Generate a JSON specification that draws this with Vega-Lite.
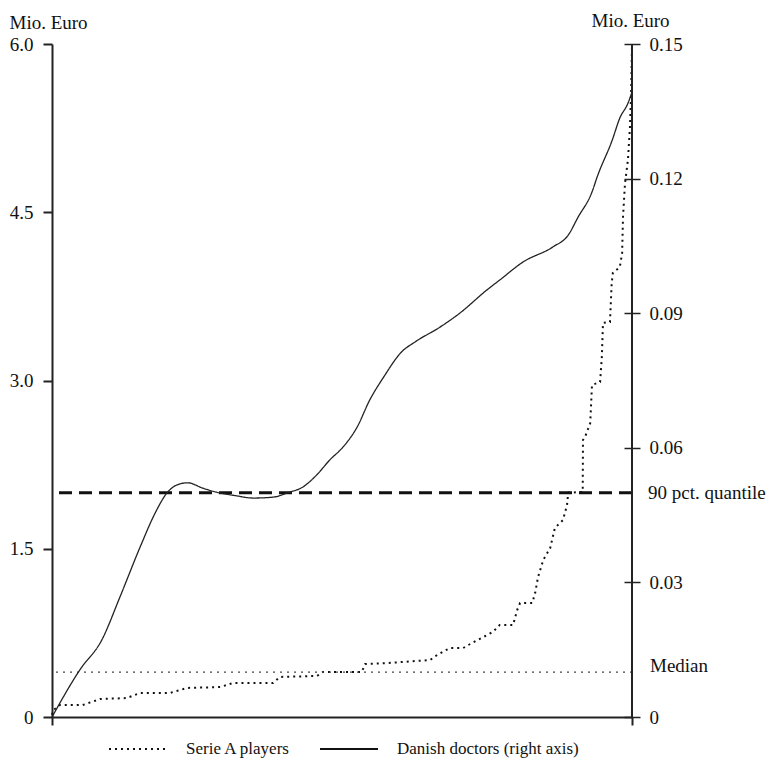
{
  "$schema": "https://vega.github.io/schema/vega-lite/v6.json",
  "width": 580,
  "height": 673,
  "autosize": {"type": "none"},
  "padding": {"left": 52, "top": 44, "right": 140, "bottom": 43},
  "background": "white",
  "config": {
    "view": {"stroke": null},
    "font": "Liberation Serif",
    "axis": {
      "grid": false,
      "labelFont": "Liberation Serif",
      "titleFont": "Liberation Serif",
      "labelColor": "#111",
      "titleColor": "#111",
      "domainColor": "#222",
      "tickColor": "#222",
      "labelFontSize": 19,
      "titleFontSize": 19,
      "titleFontWeight": "normal"
    }
  },
  "datasets": {
    "serie": [
      {"p": 0, "v": 0.02, "series": "Serie A players"},
      {"p": 0.2, "v": 0.06, "series": "Serie A players"},
      {"p": 1.4, "v": 0.107, "series": "Serie A players"},
      {"p": 5.3, "v": 0.107, "series": "Serie A players"},
      {"p": 8.3, "v": 0.16, "series": "Serie A players"},
      {"p": 12.9, "v": 0.169, "series": "Serie A players"},
      {"p": 15.2, "v": 0.214, "series": "Serie A players"},
      {"p": 20.3, "v": 0.214, "series": "Serie A players"},
      {"p": 23.3, "v": 0.259, "series": "Serie A players"},
      {"p": 29.0, "v": 0.267, "series": "Serie A players"},
      {"p": 31.2, "v": 0.303, "series": "Serie A players"},
      {"p": 38.1, "v": 0.303, "series": "Serie A players"},
      {"p": 39.3, "v": 0.357, "series": "Serie A players"},
      {"p": 45.7, "v": 0.366, "series": "Serie A players"},
      {"p": 46.7, "v": 0.401, "series": "Serie A players"},
      {"p": 53.4, "v": 0.401, "series": "Serie A players"},
      {"p": 54.0, "v": 0.472, "series": "Serie A players"},
      {"p": 57.8, "v": 0.481, "series": "Serie A players"},
      {"p": 65.2, "v": 0.508, "series": "Serie A players"},
      {"p": 66.4, "v": 0.553, "series": "Serie A players"},
      {"p": 68.6, "v": 0.615, "series": "Serie A players"},
      {"p": 70.9, "v": 0.615, "series": "Serie A players"},
      {"p": 72.1, "v": 0.651, "series": "Serie A players"},
      {"p": 76.0, "v": 0.758, "series": "Serie A players"},
      {"p": 77.2, "v": 0.82, "series": "Serie A players"},
      {"p": 79.5, "v": 0.82, "series": "Serie A players"},
      {"p": 80.2, "v": 0.954, "series": "Serie A players"},
      {"p": 80.7, "v": 1.016, "series": "Serie A players"},
      {"p": 82.8, "v": 1.016, "series": "Serie A players"},
      {"p": 83.3, "v": 1.105, "series": "Serie A players"},
      {"p": 83.8, "v": 1.248, "series": "Serie A players"},
      {"p": 84.7, "v": 1.4, "series": "Serie A players"},
      {"p": 85.9, "v": 1.507, "series": "Serie A players"},
      {"p": 86.7, "v": 1.685, "series": "Serie A players"},
      {"p": 88.1, "v": 1.756, "series": "Serie A players"},
      {"p": 88.8, "v": 1.89, "series": "Serie A players"},
      {"p": 89.0, "v": 2.0, "series": "Serie A players"},
      {"p": 91.5, "v": 2.006, "series": "Serie A players"},
      {"p": 91.55, "v": 2.469, "series": "Serie A players"},
      {"p": 91.9, "v": 2.496, "series": "Serie A players"},
      {"p": 92.8, "v": 2.621, "series": "Serie A players"},
      {"p": 93.1, "v": 2.96, "series": "Serie A players"},
      {"p": 94.5, "v": 2.987, "series": "Serie A players"},
      {"p": 94.8, "v": 3.209, "series": "Serie A players"},
      {"p": 95.0, "v": 3.513, "series": "Serie A players"},
      {"p": 96.2, "v": 3.521, "series": "Serie A players"},
      {"p": 96.5, "v": 3.869, "series": "Serie A players"},
      {"p": 96.7, "v": 3.958, "series": "Serie A players"},
      {"p": 97.9, "v": 4.012, "series": "Serie A players"},
      {"p": 98.3, "v": 4.137, "series": "Serie A players"},
      {"p": 98.45, "v": 4.458, "series": "Serie A players"},
      {"p": 98.8, "v": 4.761, "series": "Serie A players"},
      {"p": 99.3, "v": 4.966, "series": "Serie A players"},
      {"p": 99.65, "v": 5.26, "series": "Serie A players"},
      {"p": 99.85, "v": 5.563, "series": "Serie A players"},
      {"p": 100, "v": 5.99, "series": "Serie A players"}
    ],
    "danish": [
      {"p": 0, "v": 0, "series": "Danish doctors (right axis)"},
      {"p": 4.8, "v": 0.0105, "series": "Danish doctors (right axis)"},
      {"p": 8.6, "v": 0.0172, "series": "Danish doctors (right axis)"},
      {"p": 11.7, "v": 0.0267, "series": "Danish doctors (right axis)"},
      {"p": 15.2, "v": 0.0379, "series": "Danish doctors (right axis)"},
      {"p": 17.8, "v": 0.0455, "series": "Danish doctors (right axis)"},
      {"p": 19.8, "v": 0.0499, "series": "Danish doctors (right axis)"},
      {"p": 21.5, "v": 0.0517, "series": "Danish doctors (right axis)"},
      {"p": 23.4, "v": 0.0522, "series": "Danish doctors (right axis)"},
      {"p": 26.0, "v": 0.051, "series": "Danish doctors (right axis)"},
      {"p": 28.4, "v": 0.0501, "series": "Danish doctors (right axis)"},
      {"p": 31.8, "v": 0.0493, "series": "Danish doctors (right axis)"},
      {"p": 34.7, "v": 0.0488, "series": "Danish doctors (right axis)"},
      {"p": 38.1, "v": 0.049, "series": "Danish doctors (right axis)"},
      {"p": 40.7, "v": 0.05, "series": "Danish doctors (right axis)"},
      {"p": 43.3, "v": 0.0513, "series": "Danish doctors (right axis)"},
      {"p": 45.6, "v": 0.0539, "series": "Danish doctors (right axis)"},
      {"p": 47.9, "v": 0.0573, "series": "Danish doctors (right axis)"},
      {"p": 50.2, "v": 0.0602, "series": "Danish doctors (right axis)"},
      {"p": 52.6, "v": 0.0646, "series": "Danish doctors (right axis)"},
      {"p": 54.8, "v": 0.0707, "series": "Danish doctors (right axis)"},
      {"p": 57.1, "v": 0.0756, "series": "Danish doctors (right axis)"},
      {"p": 60.3, "v": 0.0814, "series": "Danish doctors (right axis)"},
      {"p": 62.6, "v": 0.0836, "series": "Danish doctors (right axis)"},
      {"p": 66.9, "v": 0.0869, "series": "Danish doctors (right axis)"},
      {"p": 70.3, "v": 0.09, "series": "Danish doctors (right axis)"},
      {"p": 75.0, "v": 0.0952, "series": "Danish doctors (right axis)"},
      {"p": 77.2, "v": 0.0974, "series": "Danish doctors (right axis)"},
      {"p": 81.2, "v": 0.1014, "series": "Danish doctors (right axis)"},
      {"p": 86.4, "v": 0.1048, "series": "Danish doctors (right axis)"},
      {"p": 89.0, "v": 0.1074, "series": "Danish doctors (right axis)"},
      {"p": 90.7, "v": 0.1114, "series": "Danish doctors (right axis)"},
      {"p": 93.1, "v": 0.117, "series": "Danish doctors (right axis)"},
      {"p": 94.0, "v": 0.1204, "series": "Danish doctors (right axis)"},
      {"p": 96.6, "v": 0.1286, "series": "Danish doctors (right axis)"},
      {"p": 97.9, "v": 0.1335, "series": "Danish doctors (right axis)"},
      {"p": 99.3, "v": 0.1368, "series": "Danish doctors (right axis)"},
      {"p": 100, "v": 0.1393, "series": "Danish doctors (right axis)"}
    ],
    "q90": [{"label": "90 pct. quantile", "v": 2.0}],
    "median": [{"label": "Median", "v": 0.4}],
    "edge": [{"p": 100}]
  },
  "layer": [
    {
      "encoding": {
        "y": {"field": "v", "type": "quantitative", "scale": {"domain": [0, 6], "nice": false},
          "axis": {"orient": "left", "values": [0, 1.5, 3, 4.5, 6],
            "labelExpr": "datum.value == 0 ? '0' : format(datum.value, '.1f')",
            "tickSize": 9, "labelPadding": 10, "domainWidth": 2, "tickWidth": 2,
            "title": "Mio. Euro", "titleAngle": 0, "titleX": -43, "titleY": -16,
            "titleAlign": "left", "titleBaseline": "alphabetic"}}
      },
      "layer": [
        {
          "data": {"name": "serie"},
          "mark": {"type": "line", "color": "#111", "strokeWidth": 2, "strokeCap": "butt"},
          "encoding": {
            "x": {"field": "p", "type": "quantitative", "scale": {"domain": [0, 100], "nice": false},
              "axis": {"orient": "bottom", "values": [0, 100], "labels": false, "tickSize": 8, "domainWidth": 2, "tickWidth": 2, "title": null}},
            "strokeDash": {"field": "series", "type": "nominal",
              "scale": {"domain": ["Serie A players", "Danish doctors (right axis)"], "range": [[2, 4], [1, 0]]},
              "legend": {"orient": "none", "legendX": 56, "legendY": 675, "direction": "horizontal", "title": null,
                "symbolType": "stroke", "symbolSize": 3364, "symbolStrokeWidth": 2,
                "labelFontSize": 17, "labelFont": "Liberation Serif", "labelColor": "#111", "labelLimit": 0,
                "labelOffset": 18, "columnPadding": 25, "padding": 0}}
          }
        },
        {
          "data": {"name": "q90"},
          "mark": {"type": "rule", "color": "#111", "strokeWidth": 3, "strokeDash": [13, 7]}
        },
        {
          "data": {"name": "median"},
          "mark": {"type": "rule", "color": "#444", "strokeWidth": 1.3, "strokeDash": [2, 5]}
        },
        {
          "data": {"name": "q90"},
          "mark": {"type": "text", "align": "left", "baseline": "middle", "dx": 16, "fontSize": 19, "font": "Liberation Serif", "color": "#111"},
          "encoding": {"x": {"datum": 100}, "text": {"field": "label"}}
        },
        {
          "data": {"name": "median"},
          "mark": {"type": "text", "align": "left", "baseline": "middle", "dx": 18, "dy": -6, "fontSize": 19, "font": "Liberation Serif", "color": "#111"},
          "encoding": {"x": {"datum": 100}, "text": {"field": "label"}}
        }
      ]
    },
    {
      "data": {"name": "danish"},
      "mark": {"type": "line", "color": "#222", "strokeWidth": 1.3, "interpolate": "monotone"},
      "encoding": {
        "x": {"field": "p", "type": "quantitative"},
        "y": {"field": "v", "type": "quantitative", "scale": {"domain": [0, 0.15], "nice": false},
          "axis": {"orient": "right", "offset": -8, "values": [0, 0.03, 0.06, 0.09, 0.12, 0.15],
            "labelExpr": "datum.value == 0 ? '0' : format(datum.value, '.2f')",
            "tickSize": 16, "labelPadding": 9, "domain": false, "tickWidth": 1.5,
            "title": "Mio. Euro", "titleAngle": 0, "titleX": -33, "titleY": -18,
            "titleAlign": "left", "titleBaseline": "alphabetic"}},
        "strokeDash": {"field": "series", "type": "nominal"}
      }
    },
    {
      "data": {"name": "edge"},
      "mark": {"type": "rule", "color": "#222", "strokeWidth": 2},
      "encoding": {"x": {"field": "p", "type": "quantitative"}}
    }
  ],
  "resolve": {"scale": {"y": "independent"}}
}
